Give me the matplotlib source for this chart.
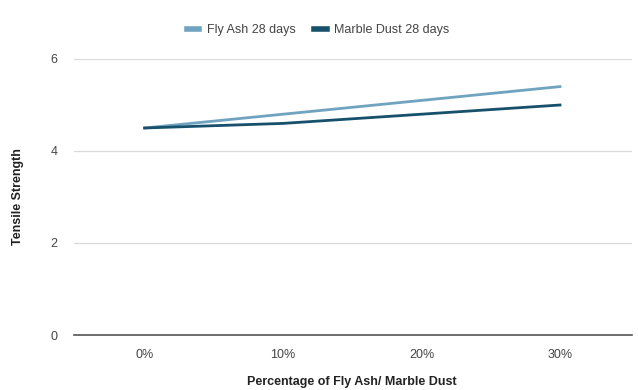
import matplotlib
matplotlib.use("Agg")
import matplotlib.pyplot as plt

plt.rcParams['font.family'] = ['Liberation Sans', 'DejaVu Sans']

categories = ['0%', '10%', '20%', '30%']
fly_ash = [4.5, 4.8, 5.1, 5.4]
marble_dust = [4.5, 4.6, 4.8, 5.0]
y_ticks = [0, 2, 4, 6]

fig = plt.figure(figsize=(6.38, 3.9), dpi=100)
ax = fig.add_axes([74 / 638, 1 - 335 / 390, (632 - 74) / 638, (335 - 59) / 390])

x = range(len(categories))
ax.plot(x, fly_ash, color='#6fa3c0', lw=2, label='Fly Ash 28 days')
ax.plot(x, marble_dust, color='#16506b', lw=2, label='Marble Dust 28 days')

ax.set_xlim(-0.51, 3.52)
ax.set_ylim(0, 6)
ax.set_xticks(list(x))
ax.set_xticklabels(categories)
ax.set_yticks(y_ticks)
ax.tick_params(axis='both', length=0, labelsize=9, colors='#444444')
ax.tick_params(axis='x', pad=10)
ax.tick_params(axis='y', pad=12)

ax.grid(axis='y', color='#d9d9d9', lw=0.9)
ax.set_axisbelow(True)
for s in ['top', 'right', 'left']:
    ax.spines[s].set_visible(False)
ax.spines['bottom'].set_color('#555555')
ax.spines['bottom'].set_linewidth(1.2)

# axis titles placed by hand, like the google sheets export
fig.text(18 / 638, 1 - 197 / 390, 'Tensile Strength', rotation=90, fontsize=9,
         fontweight='bold', color='#222222', ha='center', va='center')
fig.text(352 / 638, 1 - 382 / 390, 'Percentage of Fly Ash/ Marble Dust', fontsize=9,
         fontweight='bold', color='#222222', ha='center', va='center')

fig.legend(loc='center', bbox_to_anchor=(318 / 638, 1 - 30 / 390), ncol=2, frameon=False,
           fontsize=9, handlelength=1.0, handletextpad=0.6, columnspacing=1.5,
           labelcolor='#444444')
leg = fig.legends[0]
for h in leg.legend_handles:
    h.set_linewidth(4)

fig.savefig('out.png', dpi=100)
